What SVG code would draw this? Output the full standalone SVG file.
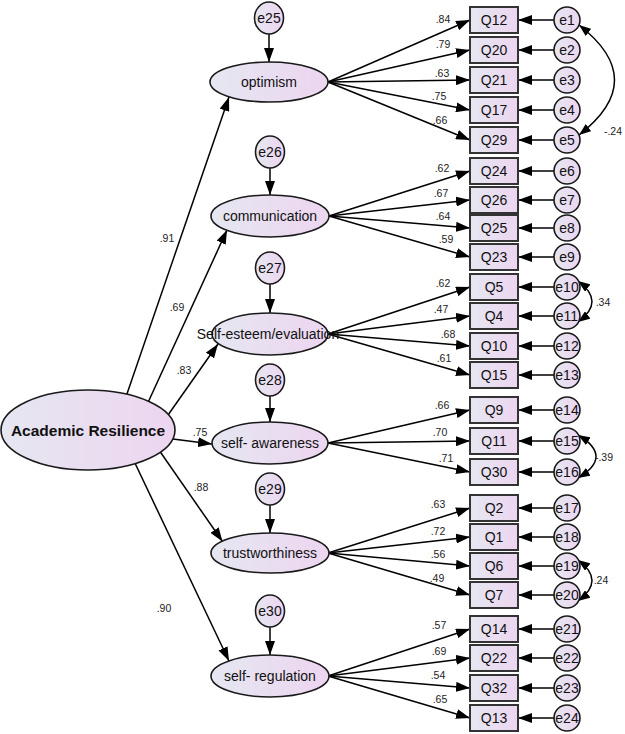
<svg xmlns="http://www.w3.org/2000/svg" width="625" height="734" viewBox="0 0 625 734">
<defs>
<linearGradient id="g" x1="0" y1="0" x2="1" y2="0">
<stop offset="0" stop-color="#e5e7f1"/>
<stop offset="1" stop-color="#edd5f0"/>
</linearGradient>
<marker id="ah" markerUnits="userSpaceOnUse" markerWidth="15" markerHeight="10" refX="14" refY="5" orient="auto">
<path d="M0,0 L14,5 L0,10 z" fill="#000"/>
</marker>
<marker id="ac" markerUnits="userSpaceOnUse" markerWidth="13" markerHeight="9" refX="12" refY="4.5" orient="auto-start-reverse">
<path d="M0,0 L12,4.5 L0,9 z" fill="#000"/>
</marker>
</defs>
<style>
.n{fill:url(#g);stroke:#1a1a1a;stroke-width:1.6}
.r{fill:url(#g);stroke:#333;stroke-width:2}
.t{font-family:"Liberation Sans",Arial,sans-serif;font-size:14px;fill:#111;text-anchor:middle;dominant-baseline:central}
.b{font-weight:bold;font-size:15.5px}
.l{font-family:"Liberation Sans",Arial,sans-serif;font-size:10.5px;fill:#222;text-anchor:middle}
.c line,.c path{stroke:#000;stroke-width:1.5;fill:none}
.a{marker-end:url(#ah)}
.cv{marker-start:url(#ac);marker-end:url(#ac)}
</style>
<g id="connectors" class="c">
<line class="a" x1="118" y1="420" x2="229" y2="97"/>
<line class="a" x1="140" y1="420" x2="227" y2="230"/>
<line class="a" x1="161" y1="425" x2="218" y2="344"/>
<line class="a" x1="165" y1="438" x2="212" y2="444"/>
<line class="a" x1="152" y1="440" x2="222.5" y2="541.5"/>
<line class="a" x1="124" y1="440" x2="229" y2="661"/>
<line class="a" x1="269" y1="34" x2="269" y2="62"/>
<line class="a" x1="270" y1="168" x2="270" y2="195"/>
<line class="a" x1="270" y1="284" x2="270" y2="313"/>
<line class="a" x1="270" y1="396" x2="270" y2="422"/>
<line class="a" x1="270" y1="505" x2="270" y2="533"/>
<line class="a" x1="270" y1="627" x2="270" y2="655"/>
<line class="a" x1="328" y1="82" x2="470" y2="20"/>
<line class="a" x1="328" y1="82" x2="470" y2="50"/>
<line class="a" x1="328" y1="82" x2="470" y2="80"/>
<line class="a" x1="328" y1="82" x2="470" y2="110"/>
<line class="a" x1="328" y1="82" x2="470" y2="140"/>
<line class="a" x1="329" y1="216" x2="470" y2="171"/>
<line class="a" x1="329" y1="216" x2="470" y2="200"/>
<line class="a" x1="329" y1="216" x2="470" y2="228"/>
<line class="a" x1="329" y1="216" x2="470" y2="257"/>
<line class="a" x1="328" y1="334" x2="470" y2="287"/>
<line class="a" x1="328" y1="334" x2="470" y2="316"/>
<line class="a" x1="328" y1="334" x2="470" y2="346"/>
<line class="a" x1="328" y1="334" x2="470" y2="375"/>
<line class="a" x1="328" y1="443" x2="470" y2="410"/>
<line class="a" x1="328" y1="443" x2="470" y2="441"/>
<line class="a" x1="328" y1="443" x2="470" y2="472"/>
<line class="a" x1="328" y1="553" x2="470" y2="508"/>
<line class="a" x1="328" y1="553" x2="470" y2="537"/>
<line class="a" x1="328" y1="553" x2="470" y2="566"/>
<line class="a" x1="328" y1="553" x2="470" y2="595"/>
<line class="a" x1="328" y1="676" x2="470" y2="629"/>
<line class="a" x1="328" y1="676" x2="470" y2="658"/>
<line class="a" x1="328" y1="676" x2="470" y2="688"/>
<line class="a" x1="328" y1="676" x2="470" y2="718"/>
<line class="a" x1="554" y1="20" x2="518" y2="20"/>
<line class="a" x1="554" y1="50" x2="518" y2="50"/>
<line class="a" x1="554" y1="80" x2="518" y2="80"/>
<line class="a" x1="554" y1="110" x2="518" y2="110"/>
<line class="a" x1="554" y1="140" x2="518" y2="140"/>
<line class="a" x1="554" y1="171" x2="518" y2="171"/>
<line class="a" x1="554" y1="200" x2="518" y2="200"/>
<line class="a" x1="554" y1="228" x2="518" y2="228"/>
<line class="a" x1="554" y1="257" x2="518" y2="257"/>
<line class="a" x1="554" y1="287" x2="518" y2="287"/>
<line class="a" x1="554" y1="316" x2="518" y2="316"/>
<line class="a" x1="554" y1="346" x2="518" y2="346"/>
<line class="a" x1="554" y1="375" x2="518" y2="375"/>
<line class="a" x1="554" y1="410" x2="518" y2="410"/>
<line class="a" x1="554" y1="441" x2="518" y2="441"/>
<line class="a" x1="554" y1="472" x2="518" y2="472"/>
<line class="a" x1="554" y1="508" x2="518" y2="508"/>
<line class="a" x1="554" y1="537" x2="518" y2="537"/>
<line class="a" x1="554" y1="566" x2="518" y2="566"/>
<line class="a" x1="554" y1="595" x2="518" y2="595"/>
<line class="a" x1="554" y1="629" x2="518" y2="629"/>
<line class="a" x1="554" y1="658" x2="518" y2="658"/>
<line class="a" x1="554" y1="688" x2="518" y2="688"/>
<line class="a" x1="554" y1="718" x2="518" y2="718"/>
<path class="cv" d="M579,25 Q650,80 579,135"/>
<path class="cv" d="M578,281 Q606,301.5 578,322"/>
<path class="cv" d="M578,435 Q614,456.5 578,478"/>
<path class="cv" d="M578,560 Q606,580.5 578,601"/>
</g>
<g id="labels">
<text class="l" x="167" y="242">.91</text>
<text class="l" x="177" y="311">.69</text>
<text class="l" x="184" y="374">.83</text>
<text class="l" x="200" y="436">.75</text>
<text class="l" x="201" y="491">.88</text>
<text class="l" x="164" y="612">.90</text>
<text class="l" x="443" y="23">.84</text>
<text class="l" x="443" y="48">.79</text>
<text class="l" x="442" y="77">.63</text>
<text class="l" x="439" y="100">.75</text>
<text class="l" x="440" y="124">.66</text>
<text class="l" x="442" y="172">.62</text>
<text class="l" x="441" y="197">.67</text>
<text class="l" x="443" y="220">.64</text>
<text class="l" x="446" y="243">.59</text>
<text class="l" x="443" y="287">.62</text>
<text class="l" x="441" y="313">.47</text>
<text class="l" x="448" y="338">.68</text>
<text class="l" x="444" y="362">.61</text>
<text class="l" x="442" y="409">.66</text>
<text class="l" x="440" y="436">.70</text>
<text class="l" x="446" y="462">.71</text>
<text class="l" x="438" y="508">.63</text>
<text class="l" x="438" y="535">.72</text>
<text class="l" x="438" y="558">.56</text>
<text class="l" x="437" y="582">.49</text>
<text class="l" x="439" y="629">.57</text>
<text class="l" x="439" y="655">.69</text>
<text class="l" x="438" y="679">.54</text>
<text class="l" x="440" y="703">.65</text>
<text class="l" x="613" y="135">-.24</text>
<text class="l" x="603" y="306">.34</text>
<text class="l" x="604" y="461">-.39</text>
<text class="l" x="601" y="584">.24</text>
</g>
<g id="AR"><ellipse class="n" cx="88" cy="430" rx="87" ry="40"/><text class="t b" x="88" y="430">Academic Resilience</text></g>
<g id="optimism"><ellipse class="n" cx="269" cy="82" rx="59" ry="20"/><text class="t" x="269" y="82">optimism</text></g>
<g id="communication"><ellipse class="n" cx="270" cy="216" rx="59" ry="21"/><text class="t" x="270" y="216">communication</text></g>
<g id="selfesteem"><ellipse class="n" cx="270" cy="334" rx="58" ry="21"/><text class="t" x="268" y="334">Self-esteem/evaluation</text></g>
<g id="selfawareness"><ellipse class="n" cx="270" cy="443" rx="58" ry="21"/><text class="t" x="270" y="443">self- awareness</text></g>
<g id="trustworthiness"><ellipse class="n" cx="270" cy="553" rx="59" ry="20"/><text class="t" x="270" y="553">trustworthiness</text></g>
<g id="selfregulation"><ellipse class="n" cx="270" cy="676" rx="59" ry="21"/><text class="t" x="270" y="676">self- regulation</text></g>
<g id="e25"><ellipse class="n" cx="269" cy="18" rx="14.5" ry="16"/><text class="t" x="269" y="18">e25</text></g>
<g id="e26"><ellipse class="n" cx="270" cy="152" rx="14.5" ry="16"/><text class="t" x="270" y="152">e26</text></g>
<g id="e27"><ellipse class="n" cx="270" cy="268" rx="14.5" ry="16"/><text class="t" x="270" y="268">e27</text></g>
<g id="e28"><ellipse class="n" cx="270" cy="380" rx="14.5" ry="16"/><text class="t" x="270" y="380">e28</text></g>
<g id="e29"><ellipse class="n" cx="270" cy="489" rx="14.5" ry="16"/><text class="t" x="270" y="489">e29</text></g>
<g id="e30"><ellipse class="n" cx="270" cy="611" rx="14.5" ry="16"/><text class="t" x="270" y="611">e30</text></g>
<g id="Q12"><rect class="r" x="470" y="7" width="48" height="26"/><text class="t" x="494" y="20">Q12</text></g>
<g id="Q20"><rect class="r" x="470" y="37" width="48" height="26"/><text class="t" x="494" y="50">Q20</text></g>
<g id="Q21"><rect class="r" x="470" y="67" width="48" height="26"/><text class="t" x="494" y="80">Q21</text></g>
<g id="Q17"><rect class="r" x="470" y="97" width="48" height="26"/><text class="t" x="494" y="110">Q17</text></g>
<g id="Q29"><rect class="r" x="470" y="127" width="48" height="26"/><text class="t" x="494" y="140">Q29</text></g>
<g id="Q24"><rect class="r" x="470" y="158" width="48" height="26"/><text class="t" x="494" y="171">Q24</text></g>
<g id="Q26"><rect class="r" x="470" y="187" width="48" height="26"/><text class="t" x="494" y="200">Q26</text></g>
<g id="Q25"><rect class="r" x="470" y="215" width="48" height="26"/><text class="t" x="494" y="228">Q25</text></g>
<g id="Q23"><rect class="r" x="470" y="244" width="48" height="26"/><text class="t" x="494" y="257">Q23</text></g>
<g id="Q5"><rect class="r" x="470" y="274" width="48" height="26"/><text class="t" x="494" y="287">Q5</text></g>
<g id="Q4"><rect class="r" x="470" y="303" width="48" height="26"/><text class="t" x="494" y="316">Q4</text></g>
<g id="Q10"><rect class="r" x="470" y="333" width="48" height="26"/><text class="t" x="494" y="346">Q10</text></g>
<g id="Q15"><rect class="r" x="470" y="362" width="48" height="26"/><text class="t" x="494" y="375">Q15</text></g>
<g id="Q9"><rect class="r" x="470" y="397" width="48" height="26"/><text class="t" x="494" y="410">Q9</text></g>
<g id="Q11"><rect class="r" x="470" y="428" width="48" height="26"/><text class="t" x="494" y="441">Q11</text></g>
<g id="Q30"><rect class="r" x="470" y="459" width="48" height="26"/><text class="t" x="494" y="472">Q30</text></g>
<g id="Q2"><rect class="r" x="470" y="495" width="48" height="26"/><text class="t" x="494" y="508">Q2</text></g>
<g id="Q1"><rect class="r" x="470" y="524" width="48" height="26"/><text class="t" x="494" y="537">Q1</text></g>
<g id="Q6"><rect class="r" x="470" y="553" width="48" height="26"/><text class="t" x="494" y="566">Q6</text></g>
<g id="Q7"><rect class="r" x="470" y="582" width="48" height="26"/><text class="t" x="494" y="595">Q7</text></g>
<g id="Q14"><rect class="r" x="470" y="616" width="48" height="26"/><text class="t" x="494" y="629">Q14</text></g>
<g id="Q22"><rect class="r" x="470" y="645" width="48" height="26"/><text class="t" x="494" y="658">Q22</text></g>
<g id="Q32"><rect class="r" x="470" y="675" width="48" height="26"/><text class="t" x="494" y="688">Q32</text></g>
<g id="Q13"><rect class="r" x="470" y="705" width="48" height="26"/><text class="t" x="494" y="718">Q13</text></g>
<g id="e1"><circle class="n" cx="567" cy="20" r="13"/><text class="t" x="567" y="20">e1</text></g>
<g id="e2"><circle class="n" cx="567" cy="50" r="13"/><text class="t" x="567" y="50">e2</text></g>
<g id="e3"><circle class="n" cx="567" cy="80" r="13"/><text class="t" x="567" y="80">e3</text></g>
<g id="e4"><circle class="n" cx="567" cy="110" r="13"/><text class="t" x="567" y="110">e4</text></g>
<g id="e5"><circle class="n" cx="567" cy="140" r="13"/><text class="t" x="567" y="140">e5</text></g>
<g id="e6"><circle class="n" cx="567" cy="171" r="13"/><text class="t" x="567" y="171">e6</text></g>
<g id="e7"><circle class="n" cx="567" cy="200" r="13"/><text class="t" x="567" y="200">e7</text></g>
<g id="e8"><circle class="n" cx="567" cy="228" r="13"/><text class="t" x="567" y="228">e8</text></g>
<g id="e9"><circle class="n" cx="567" cy="257" r="13"/><text class="t" x="567" y="257">e9</text></g>
<g id="e10"><circle class="n" cx="567" cy="287" r="13"/><text class="t" x="567" y="287">e10</text></g>
<g id="e11"><circle class="n" cx="567" cy="316" r="13"/><text class="t" x="567" y="316">e11</text></g>
<g id="e12"><circle class="n" cx="567" cy="346" r="13"/><text class="t" x="567" y="346">e12</text></g>
<g id="e13"><circle class="n" cx="567" cy="375" r="13"/><text class="t" x="567" y="375">e13</text></g>
<g id="e14"><circle class="n" cx="567" cy="410" r="13"/><text class="t" x="567" y="410">e14</text></g>
<g id="e15"><circle class="n" cx="567" cy="441" r="13"/><text class="t" x="567" y="441">e15</text></g>
<g id="e16"><circle class="n" cx="567" cy="472" r="13"/><text class="t" x="567" y="472">e16</text></g>
<g id="e17"><circle class="n" cx="567" cy="508" r="13"/><text class="t" x="567" y="508">e17</text></g>
<g id="e18"><circle class="n" cx="567" cy="537" r="13"/><text class="t" x="567" y="537">e18</text></g>
<g id="e19"><circle class="n" cx="567" cy="566" r="13"/><text class="t" x="567" y="566">e19</text></g>
<g id="e20"><circle class="n" cx="567" cy="595" r="13"/><text class="t" x="567" y="595">e20</text></g>
<g id="e21"><circle class="n" cx="567" cy="629" r="13"/><text class="t" x="567" y="629">e21</text></g>
<g id="e22"><circle class="n" cx="567" cy="658" r="13"/><text class="t" x="567" y="658">e22</text></g>
<g id="e23"><circle class="n" cx="567" cy="688" r="13"/><text class="t" x="567" y="688">e23</text></g>
<g id="e24"><circle class="n" cx="567" cy="718" r="13"/><text class="t" x="567" y="718">e24</text></g>
</svg>
